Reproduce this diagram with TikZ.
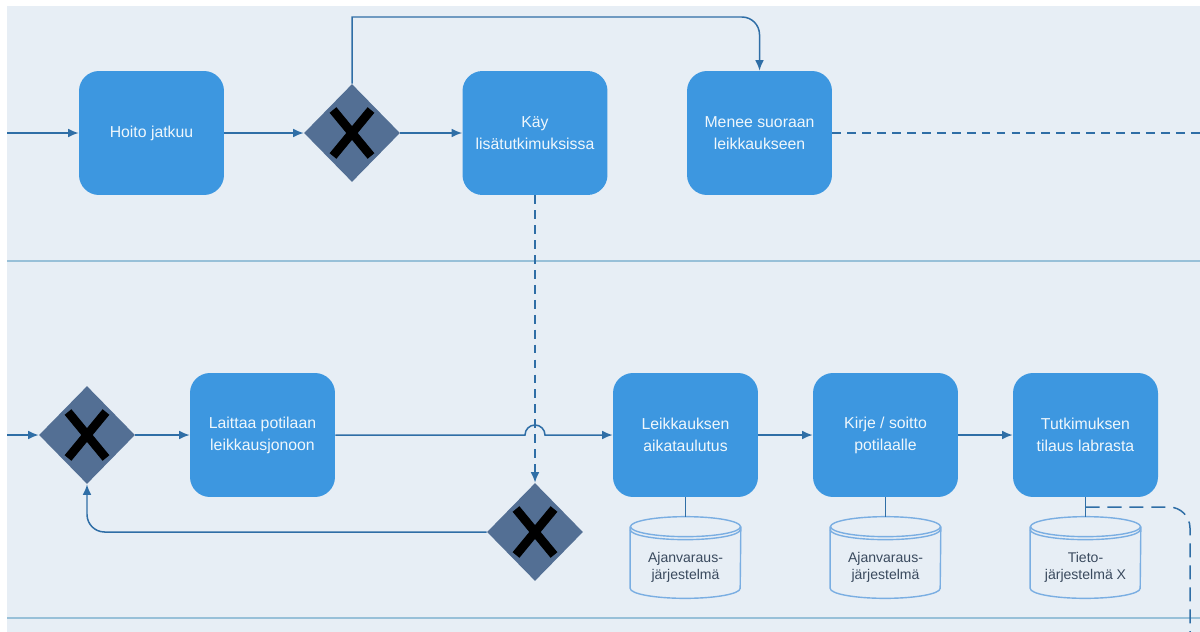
\documentclass[tikz,border=0pt]{standalone}
\usepackage{fontspec}
\setmainfont{Liberation Sans}
\usepackage{xcolor}
\usepackage{tikz}
\usetikzlibrary{calc, shapes.geometric, positioning, arrows.meta}

\definecolor{taustavari}{HTML}{E7EEF5}
\definecolor{laatikko}{HTML}{3D97E0}
\definecolor{portti}{HTML}{536F94}
\definecolor{nuoli}{HTML}{2F6EA6}
\definecolor{kaista}{HTML}{98C0D8}
\definecolor{kanta}{HTML}{7AAEE2}
\definecolor{kantateksti}{HTML}{3A4A5E}

% Tietokannan sylinteri solmun ympärille
\newcommand{\tietokanta}[1]{%
    \coordinate (#1-top) at ($(#1.north)+(0,-19)$);
    \draw[kantaviiva] ($(#1.north west)+(0,-9)$) -- ($(#1.south west)+(0,-10)$)
        arc[start angle=180, end angle=0, x radius=55, y radius=10]
        -- ($(#1.north east)+(0,-9)$);
    \draw[kantaviiva] ($(#1.north)+(0,-9)$) ellipse [x radius=55, y radius=10];
    \draw[kantaviiva] ($(#1.north west)+(0,-6)$)
        arc[start angle=180, end angle=0, x radius=55, y radius=10];
}

\begin{document}
\begin{tikzpicture}[>={Latex[length=6pt, width=5pt]}, x=0.02cm, y=-0.02cm,
    box/.style={rectangle, rounded corners=0.4cm, fill=laatikko,
        minimum width=2.9cm, minimum height=2.48cm, align=center,
        text=white!92!laatikko, font=\fontsize{9}{12.5}\selectfont},
    gate/.style={diamond, fill=portti, minimum width=1.92cm,
        minimum height=1.96cm, inner sep=0pt,
        path picture={
            \draw[line width=5pt]
                ([shift={(-0.38cm,0.46cm)}]path picture bounding box.center)
                -- ([shift={(0.38cm,-0.46cm)}]path picture bounding box.center);
            \draw[line width=5pt]
                ([shift={(0.38cm,0.46cm)}]path picture bounding box.center)
                -- ([shift={(-0.38cm,-0.46cm)}]path picture bounding box.center);
        }},
    kanta/.style={minimum width=2.2cm, minimum height=1.24cm, inner sep=0pt,
        align=center, text=kantateksti, font=\fontsize{8}{9.6}\selectfont},
    kantaviiva/.style={draw=kanta, line width=0.8pt},
    flow/.style={->, draw=nuoli, line width=0.85pt},
    yhteys/.style={draw=nuoli, line width=0.85pt},
    katko/.style={draw=nuoli, line width=0.85pt, dash pattern=on 5pt off 3.5pt},
    kaistaviiva/.style={draw=kaista, line width=1.2pt}]

    % 1. Tausta ja kaistat
    \useasboundingbox (0,0) rectangle (1200,632);
    \fill[taustavari] (7,6) rectangle (1200,632);
    \draw[kaistaviiva] (7,261) -- (1200,261);
    \draw[kaistaviiva] (7,618) -- (1200,618);

    % 2. Ylempi kaista
    \node[box] (box1) at (151.5,133) {Hoito jatkuu};
    \node[gate] (g1) at (352,133) {};
    \node[box] (box2) at (535,133) {Käy\\lisätutkimuksissa};
    \node[box] (box3) at (759.5,133) {Menee suoraan\\leikkaukseen};

    % 3. Alempi kaista
    \node[gate] (g2) at (87,435) {};
    \node[box] (box4) at (262.5,435) {Laittaa potilaan\\leikkausjonoon};
    \node[box] (box5) at (685.5,435) {Leikkauksen\\aikataulutus};
    \node[box] (box6) at (885.5,435) {Kirje / soitto\\potilaalle};
    \node[box] (box7) at (1085.5,435) {Tutkimuksen\\tilaus labrasta};
    \node[gate] (g3) at (535,532) {};

    % 4. Tietokannat
    \node[kanta] (db1) at (685.5,567) {Ajanvaraus-\\järjestelmä};
    \node[kanta] (db2) at (885.5,567) {Ajanvaraus-\\järjestelmä};
    \node[kanta] (db3) at (1085.5,567) {Tieto-\\järjestelmä X};
    \tietokanta{db1}
    \tietokanta{db2}
    \tietokanta{db3}

    % 5. Yhteydet ylhäällä
    \coordinate (vasen1) at (7,133);
    \coordinate (oikea1) at (1200,133);
    \draw[flow] (vasen1) -- (box1.west);
    \draw[flow] (box1.east) -- (g1.west);
    \draw[flow] (g1.east) -- (box2.west);
    \draw[flow] (g1.north) |- (560,17) [rounded corners=10] -| (box3.north);
    \draw[katko] (box3.east) -- (oikea1);
    \draw[katko, ->] (box2.south) -- (g3.north);

    % 6. Yhteydet alhaalla
    \coordinate (vasen2) at (7,435);
    \coordinate (alas) at (1190,632);
    \draw[flow] (vasen2) -- (g2.west);
    \draw[flow] (g2.east) -- (box4.west);
    \draw[flow] (box4.east) -- (525,435)
        arc[start angle=180, end angle=360, radius=10] -- (box5.west);
    \draw[flow] (box5.east) -- (box6.west);
    \draw[flow] (box6.east) -- (box7.west);
    \draw[flow, rounded corners=10] (g3.west) -| (g2.south);
    \draw[yhteys] (box5.south) -- (db1-top);
    \draw[yhteys] (box6.south) -- (db2-top);
    \draw[yhteys] (box7.south) -- (db3-top);
    \draw[katko, dash pattern=on 8pt off 4.5pt, rounded corners=12]
        ($(box7.south)!0.5!(db3-top)$) -| (alas);
\end{tikzpicture}
\end{document}
